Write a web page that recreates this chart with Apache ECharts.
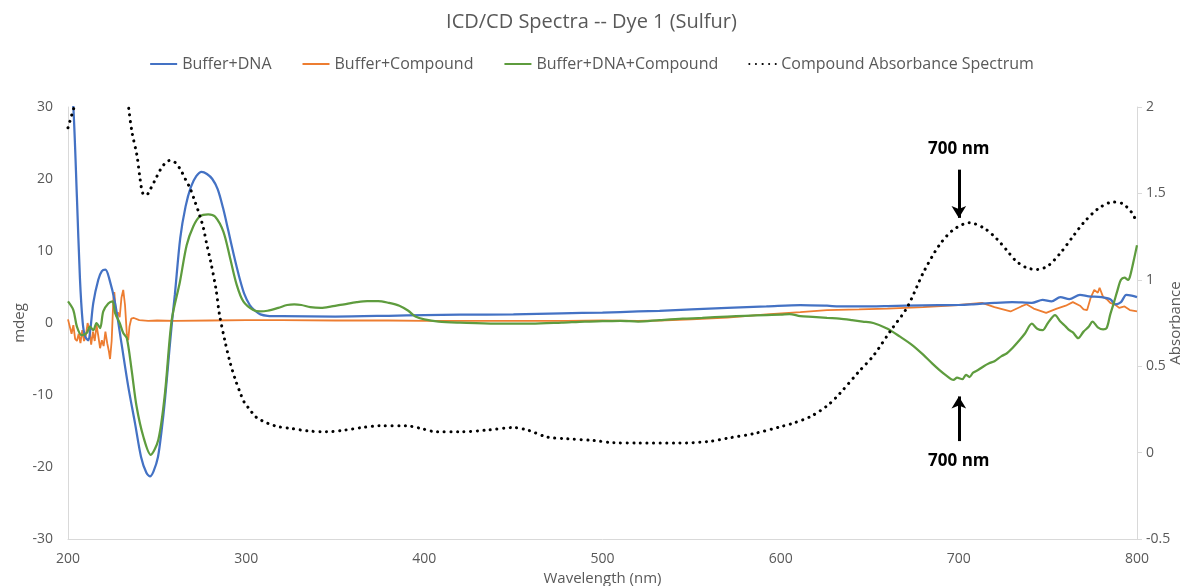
<!DOCTYPE html>
<html>
<head>
<meta charset="utf-8">
<script src="https://cdn.jsdelivr.net/npm/echarts@6/dist/echarts.min.js"></script>
<style>
html,body{margin:0;padding:0;background:#fff;}
#chart{width:1183px;height:586px;}
</style>
</head>
<body>
<div id="chart"></div>
<script>
// ---- Data ----
const seriesNames = ['Buffer+DNA', 'Buffer+Compound', 'Buffer+DNA+Compound', 'Compound Absorbance Spectrum'];

const dnaX = [200,203,205,206.7,208.2,209.5,211.4,212.5,214.2,217,219,221,223,226.4,230,233.8,237.6,241,244,246,248,250.5,252.5,254.4,257,258.5,260,263,266,269,272,275,278,281,284,287,290,293,296,299,302,305,308,312,320,350,380,400,420,450,477,500,520,532,550,570,592,611,626,633,644,660,680,700,708,720,730,741,747,752,757,762,768,773,780,785,788,791,794,797,800];
const dnaY = [40,30,17.5,6.2,0.2,-1.8,-2.4,-1,2.8,6,7.2,7.4,6.3,2.8,-2.8,-8.8,-13.9,-18.6,-20.8,-21.3,-20.6,-18.6,-15,-10.7,-3.5,0.5,4,11.8,16.2,18.9,20.4,21,20.7,20,18.6,16,12.8,9.5,6.5,4,2.5,1.7,1.2,1.0,0.95,0.9,1.0,1.1,1.15,1.2,1.35,1.45,1.6,1.7,1.9,2.1,2.3,2.5,2.4,2.3,2.3,2.35,2.45,2.5,2.6,2.8,2.9,2.8,3.2,3.0,3.6,3.3,3.9,3.7,3.6,3.3,2.6,2.9,3.9,3.8,3.6];

const cmpX = [200,201,202,203,204,205,206,207,208,209,210,211,212,213,214,215,216,217,218,219,220,221,222,223,223.6,224.5,225,225.5,226,226.7,227.3,228,229,230,231,232,233,233.8,234.5,235.5,237,240,245,250,260,280,300,320,350,380,400,450,480,500,520,532,550,570,592,611,626,644,660,680,700,713,720,729,735,738,742,749,755,760,764,768,770,772,774,776,778,779,781,783,785,788,790,793,796,800];
const cmpY = [0.5,-0.5,-1.5,-0.3,-2.2,-2.5,-1.5,-2.8,-1,-2.5,-1.8,0,-1,-3,-1.2,-2.5,-0.3,-1.8,-3.5,-2.4,-3.2,-1.2,-2.8,-4,-5,-2.5,0.5,3.5,4.3,2,0.8,1.5,0.8,3.5,4.6,2.5,-1.5,-2.4,-0.5,0.6,0.7,0.4,0.3,0.35,0.3,0.35,0.4,0.4,0.35,0.35,0.3,0.3,0.3,0.35,0.3,0.35,0.5,0.75,1.2,1.5,1.8,1.9,2.0,2.2,2.5,2.8,2.2,1.6,2.3,2.6,2.0,1.4,2.0,2.4,2.9,2.4,1.9,1.8,3.5,4.6,4.2,4.9,3.6,3.3,2.8,2.5,2.1,2.3,1.8,1.6];

const mixX = [200,203,205,207.7,210.5,212.3,214.2,216,218,219.8,222.6,225,226.4,229,231,233,235.7,238.5,242.3,246.4,250.7,254.4,258.2,262.8,266.6,270.3,274,278.7,282.5,287.2,291,294.7,298.4,304,308,312,318,323,327,331,336,342,348,355,362,368,374,380,386,391,395,400,408,420,440,460,477,490,500,510,520,532,545,556,570,580,592,600,605,611,618,626,633,640,646,652,660,667,674,680,685,689,693,697,699,702,704,706,708,711,714,717,720,724,727,730,734,737,741,744,747,750,754,757,760,762,764,767,770,773,775,778,781,783,785,787,789,791,793,795,796,798,800];
const mixY = [3.0,1.8,-0.5,-1.7,-1.4,-0.5,-1.0,0,-0.7,1.6,2.7,3.0,1.4,0,-1.4,-2.1,-6.5,-11.6,-15.8,-18.3,-16.2,-9.8,0.4,5.7,10.8,13.4,14.8,15.1,14.8,12.7,9.0,5.3,3.0,1.8,1.6,1.7,2.1,2.5,2.6,2.5,2.2,2.1,2.3,2.6,2.9,3.05,3.05,2.8,2.4,1.7,0.9,0.5,0.2,0.05,-0.1,-0.1,0.05,0.2,0.25,0.3,0.2,0.4,0.6,0.7,0.9,1.0,1.1,1.15,1.25,0.95,0.85,0.7,0.6,0.4,0.2,0.0,-0.8,-1.9,-3.1,-4.4,-5.6,-6.5,-7.3,-7.9,-7.6,-7.8,-7.2,-7.5,-6.9,-6.5,-6.0,-5.6,-5.3,-4.6,-4.2,-3.5,-2.4,-1.5,-0.1,-0.8,-1.0,0.0,1.1,0.2,-0.5,-1.0,-1.3,-2.1,-1.2,-0.5,0.2,-0.6,-0.9,-0.7,1.2,2.8,4.5,6.0,6.3,6.0,6.4,8.5,10.8];

const absX = [200,202,204,206,210,220,230,234,236,238.7,240.5,242,244,246,249,252,255,257,260,263,266,268.5,271,274,276,278,280,283,285,288,291,294,296.5,299,302,305,308,312,318,325,335,345,355,365,375,390,398,407,420,435,450,458,469,480,495,506,520,543,560,571,585,600,607,617,626,633,644,652,662,671,680,689,697,706,714,721,727,732,738,744,750,757,764,770,778,786.5,792,797,800];
const absY = [1.88,1.95,2.02,2.1,2.3,2.5,2.4,2.0,1.85,1.72,1.58,1.5,1.49,1.52,1.58,1.64,1.68,1.69,1.68,1.64,1.58,1.53,1.46,1.37,1.30,1.2,1.11,0.95,0.8,0.65,0.52,0.42,0.35,0.29,0.25,0.21,0.19,0.17,0.15,0.14,0.125,0.12,0.13,0.145,0.155,0.155,0.14,0.12,0.12,0.13,0.145,0.13,0.09,0.08,0.07,0.057,0.055,0.055,0.065,0.085,0.11,0.15,0.17,0.21,0.27,0.34,0.47,0.56,0.71,0.84,1.04,1.20,1.29,1.33,1.30,1.24,1.17,1.11,1.07,1.06,1.08,1.155,1.25,1.33,1.41,1.45,1.44,1.39,1.33];

const xTicks = {min: 200, max: 800, interval: 100};
const leftTicks = {min: -30, max: 30, interval: 10};
const rightTicks = {min: -0.5, max: 2, interval: 0.5};
const annotationText = '700 nm';
const annotationWavelength = 700;

// ---- Chart ----
const pairs = (xs, ys) => xs.map((x, i) => [x, ys[i]]);
const FONT = 'Open Sans';
const TXT = '#595959';
const AXIS = '#D9D9D9';

const chart = echarts.init(document.getElementById('chart'), null, {renderer: 'canvas'});
chart.setOption({
  animation: false,
  backgroundColor: '#ffffff',
  textStyle: {fontFamily: FONT},
  title: {
    text: 'ICD/CD Spectra -- Dye 1 (Sulfur)',
    left: 'center', top: 7,
    textStyle: {fontFamily: FONT, fontSize: 20, fontWeight: 'normal', color: TXT}
  },
  legend: {
    data: seriesNames,
    top: 51, left: 'center',
    itemWidth: 27, itemHeight: 2, itemGap: 30,
    textStyle: {fontFamily: FONT, fontSize: 16, color: TXT}
  },
  grid: {left: 68, right: 46, top: 107, bottom: 47, containLabel: false, outerBoundsMode: 'none'},
  xAxis: {
    type: 'value', min: xTicks.min, max: xTicks.max, interval: xTicks.interval,
    name: 'Wavelength (nm)', nameLocation: 'middle', nameGap: 31,
    nameTextStyle: {fontFamily: FONT, fontSize: 15, color: TXT},
    axisLine: {show: true, onZero: false, lineStyle: {color: AXIS, width: 1}},
    axisTick: {show: false},
    splitLine: {show: false},
    axisLabel: {fontFamily: FONT, fontSize: 14, color: TXT, margin: 13}
  },
  yAxis: [{
    type: 'value', min: leftTicks.min, max: leftTicks.max, interval: leftTicks.interval,
    name: 'mdeg', nameLocation: 'middle', nameGap: 41, nameRotate: 90, nameMoveOverlap: false,
    nameTextStyle: {fontFamily: FONT, fontSize: 15, color: TXT},
    axisLine: {show: true, lineStyle: {color: AXIS, width: 1}},
    axisTick: {show: false},
    splitLine: {show: false},
    axisLabel: {fontFamily: FONT, fontSize: 14, color: TXT, margin: 15}
  }, {
    type: 'value', position: 'right', min: rightTicks.min, max: rightTicks.max, interval: rightTicks.interval,
    name: 'Absorbance', nameLocation: 'middle', nameGap: 31, nameRotate: 90, nameMoveOverlap: false,
    nameTextStyle: {fontFamily: FONT, fontSize: 15, color: TXT},
    axisLine: {show: true, lineStyle: {color: AXIS, width: 1}},
    axisTick: {show: true, length: 5, lineStyle: {color: AXIS}},
    splitLine: {show: false},
    axisLabel: {fontFamily: FONT, fontSize: 14, color: TXT, margin: 9}
  }],
  series: [{
    name: seriesNames[0], type: 'line', yAxisIndex: 0, symbol: 'none', smooth: 0.3,
    data: pairs(dnaX, dnaY), clip: true, z: 3,
    lineStyle: {color: '#4472C4', width: 2.25}, itemStyle: {color: '#4472C4'}
  }, {
    name: seriesNames[1], type: 'line', yAxisIndex: 0, symbol: 'none', smooth: false,
    data: pairs(cmpX, cmpY), clip: true, z: 2,
    lineStyle: {color: '#ED7D31', width: 1.8}, itemStyle: {color: '#ED7D31'}
  }, {
    name: seriesNames[2], type: 'line', yAxisIndex: 0, symbol: 'none', smooth: 0.3,
    data: pairs(mixX, mixY), clip: true, z: 4,
    lineStyle: {color: '#5E9C3E', width: 2.25}, itemStyle: {color: '#5E9C3E'},
    markLine: {
      silent: true, symbol: ['none', 'arrow'], symbolSize: [11, 12],
      lineStyle: {color: '#000', width: 3, type: 'solid'},
      label: {show: false},
      data: [
        [{coord: [annotationWavelength, 21.3]}, {coord: [annotationWavelength, 14.6]}],
        [{coord: [annotationWavelength, -16.4]}, {coord: [annotationWavelength, -10.2]}]
      ]
    },
    markPoint: {
      silent: true, symbol: 'rect', symbolSize: 1,
      itemStyle: {color: 'rgba(0,0,0,0)'},
      label: {show: true, position: 'inside', formatter: annotationText,
        fontFamily: FONT, fontSize: 17, fontWeight: 'bold', color: '#000'},
      data: [{coord: [annotationWavelength, 24.1]}, {coord: [annotationWavelength, -19.2]}]
    }
  }, {
    name: seriesNames[3], type: 'line', yAxisIndex: 1, symbol: 'none', smooth: 0.3,
    data: pairs(absX, absY), clip: true, z: 5,
    lineStyle: {color: '#000', width: 3, type: [0.1, 6.5], cap: 'round'}, itemStyle: {color: '#000'}
  }]
});
</script>
</body>
</html>
